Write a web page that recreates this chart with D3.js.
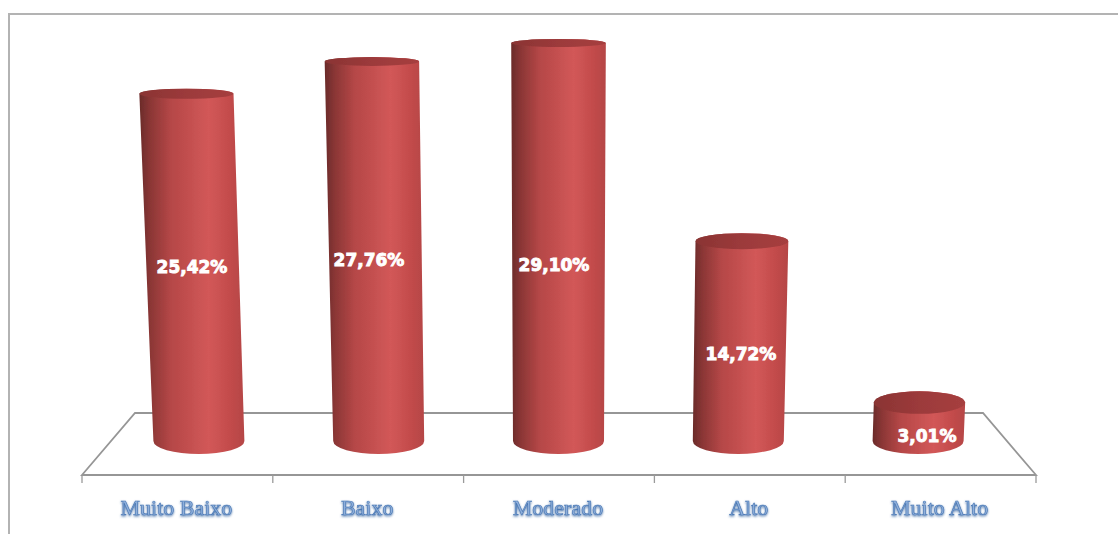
<!DOCTYPE html>
<html><head><meta charset="utf-8">
<script src="https://cdn.jsdelivr.net/npm/d3@7/dist/d3.min.js"></script>
<style>html,body{margin:0;padding:0;background:#fff}svg{display:block}</style>
</head><body>
<svg id="chart" width="1118" height="534"></svg>
<script>
const categories = ["Muito Baixo","Baixo","Moderado","Alto","Muito Alto"];
const percentages = [25.42,27.76,29.10,14.72,3.01];
const valueLabels = ["25,42%","27,76%","29,10%","14,72%","3,01%"];

const svg = d3.select("#chart");
const defs = svg.append("defs");

const side = defs.append("linearGradient").attr("id","sideShade");
[[0,"#6a2b2a"],[.1,"#8a3635"],[.3,"#b54747"],[.66,"#d25858"],[.85,"#c44c4c"],[1,"#b54545"]]
  .forEach(([o,c])=>side.append("stop").attr("offset",o).attr("stop-color",c));
const cap = defs.append("linearGradient").attr("id","capShade");
[[0,"#8a3433"],[.5,"#9c3a3b"],[1,"#a63f3f"]]
  .forEach(([o,c])=>cap.append("stop").attr("offset",o).attr("stop-color",c));
defs.append("filter").attr("id","soft").append("feGaussianBlur").attr("stdDeviation",.7);
defs.append("filter").attr("id","softLine").append("feGaussianBlur").attr("stdDeviation",.4);
const glow = defs.append("filter").attr("id","labelShadow")
  .attr("x","-10%").attr("y","-20%").attr("width","120%").attr("height","150%");
glow.append("feDropShadow").attr("dx",0).attr("dy",1.2).attr("stdDeviation",.9)
  .attr("flood-color","#2f5f9e").attr("flood-opacity",.85);

// outer frame, open on the right and at the bottom
svg.append("path").attr("d","M9 534V14H1118")
  .attr("fill","none").attr("stroke","#b3b3b3").attr("stroke-width",2);

// category band along the front edge of the floor
const xFront = d3.scaleBand().domain(categories).range([82,1036]);
// bands where the cylinder feet stand on the floor
const xFoot = d3.scaleBand().domain(categories).range([109,1008]);
// value scale for the height of each cylinder top
const y = d3.scaleLinear().domain([0,30]).range([444,30.6]);
// the cap ellipse flattens as it rises away from the floor
const capRy = d3.scaleLinear().domain([440,40]).range([12,4]);

const floorPts = [[135,413],[983,413],[1036,475],[82,475]];
svg.append("path").attr("d",d3.line()(floorPts)+"Z")
  .attr("fill","#fff").attr("stroke","#969696").attr("stroke-width",1.8)
  .attr("filter","url(#softLine)");

const tickXs = categories.map(c=>xFront(c)).concat([1036]);
svg.selectAll("line.tick-mark").data(tickXs).join("line").attr("class","tick-mark")
  .attr("x1",d=>d).attr("x2",d=>d).attr("y1",475).attr("y2",483)
  .attr("stroke","#9a9a9a").attr("stroke-width",1.3);

const baseY = 441, centreX = 558, footR = 45.5;
// perspective: things spread slightly away from the centre as they rise
const spread = yy => 1 + (baseY-yy)*0.0001;
const bars = categories.map((c,i)=>{
  const xb = xFoot(c)+xFoot.bandwidth()/2;
  const yt = y(percentages[i]);
  return {c,v:percentages[i],label:valueLabels[i],xb,yt,
          xt:centreX+(xb-centreX)*spread(yt), rt:footR*spread(yt)};
});

function cylinderPath(d){
  const ryb=13, ryt=capRy(d.yt);
  return `M${d.xt-d.rt} ${d.yt}L${d.xb-footR} ${baseY}A${footR} ${ryb} 0 0 0 ${d.xb+footR} ${baseY}`+
         `L${d.xt+d.rt} ${d.yt}A${d.rt} ${ryt} 0 0 0 ${d.xt-d.rt} ${d.yt}Z`;
}
const g = svg.append("g");
g.selectAll("path.side").data(bars).join("path").attr("class","side")
  .attr("d",cylinderPath).attr("fill","url(#sideShade)").attr("filter","url(#soft)");
g.selectAll("ellipse.cap").data(bars).join("ellipse").attr("class","cap")
  .attr("cx",d=>d.xt).attr("cy",d=>d.yt).attr("rx",d=>d.rt).attr("ry",d=>capRy(d.yt))
  .attr("fill","url(#capShade)").attr("filter","url(#soft)");

const labelXs = [192,369,554,741,927];
const labelYs = [272.5,266,271,360,442];
svg.selectAll("text.value").data(bars).join("text").attr("class","value")
  .attr("x",(d,i)=>labelXs[i]).attr("y",(d,i)=>labelYs[i])
  .attr("text-anchor","middle").attr("fill","#fff")
  .attr("font-family","'DejaVu Sans'").attr("font-weight",700).attr("font-size",17)
  .attr("stroke","#fff").attr("stroke-width",.9)
  .text(d=>d.label);

svg.selectAll("text.cat").data(categories).join("text").attr("class","cat")
  .attr("x",c=>xFront(c)+xFront.bandwidth()/2-1).attr("y",515)
  .attr("text-anchor","middle").attr("font-family","'Liberation Serif'").attr("font-size",22)
  .attr("fill","#8fb0dc").attr("stroke","#4a78b4").attr("stroke-width",.6)
  .attr("filter","url(#labelShadow)")
  .text(c=>c);
</script>
</body></html>
